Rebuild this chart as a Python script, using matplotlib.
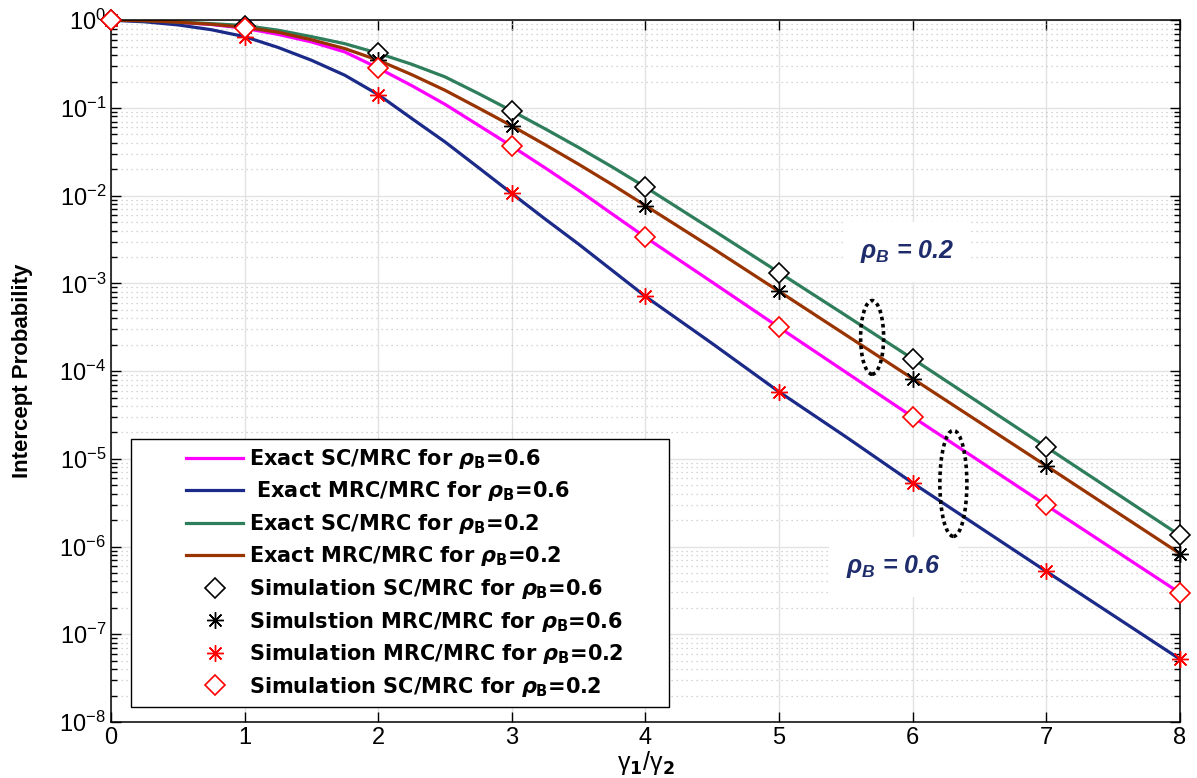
import matplotlib.pyplot as plt
from matplotlib.patches import Ellipse
from matplotlib.lines import Line2D
from matplotlib.legend_handler import HandlerLine2D
from matplotlib.ticker import LogLocator, NullFormatter

plt.rcParams['font.family'] = ['Liberation Sans', 'DejaVu Sans']
plt.rcParams['mathtext.fontset'] = 'custom'
plt.rcParams['mathtext.rm'] = 'DejaVu Sans:bold'
plt.rcParams['mathtext.it'] = 'DejaVu Sans:italic:bold'
plt.rcParams['mathtext.bf'] = 'DejaVu Sans:bold'
plt.rcParams['mathtext.bfit'] = 'Liberation Sans:italic:bold'

# analytical curves
x_curve = [0, 0.25, 0.5, 0.75, 1, 1.25, 1.5, 1.75, 2, 2.25, 2.5, 2.75, 3,
           3.25, 3.5, 3.75, 4, 4.5, 5, 5.5, 6, 7, 8]
sc_06 = [1.0, 0.985, 0.945, 0.895, 0.81, 0.69, 0.566, 0.435, 0.285, 0.18, 0.110, 0.0635, 0.0366,
         0.0207, 0.0115, 6.2e-3, 3.35e-3, 1.03e-3, 3.15e-4, 9.7e-5, 3.0e-5, 2.95e-6, 2.95e-7]
mrc_06 = [1.0, 0.96, 0.885, 0.78, 0.65, 0.49, 0.35, 0.236, 0.142, 0.076, 0.041, 0.0209, 0.0106,
          5.4e-3, 2.8e-3, 1.41e-3, 7.1e-4, 2.06e-4, 5.8e-5, 1.78e-5, 5.3e-6, 5.2e-7, 5.2e-8]
sc_02 = [1.0, 0.99, 0.955, 0.915, 0.87, 0.77, 0.65, 0.54, 0.42, 0.315, 0.226, 0.146, 0.0925,
         0.0577, 0.0354, 0.0213, 0.0125, 4.1e-3, 1.33e-3, 4.3e-4, 1.38e-4, 1.36e-5, 1.34e-6]
mrc_02 = [1.0, 0.99, 0.95, 0.90, 0.83, 0.73, 0.60, 0.475, 0.35, 0.24, 0.159, 0.10, 0.0624,
          0.038, 0.0228, 0.0134, 7.7e-3, 2.53e-3, 8.1e-4, 2.58e-4, 8.2e-5, 8.3e-6, 8.3e-7]

# simulation points
x_sim = [0, 1, 2, 3, 4, 5, 6, 7, 8]
sim_sc_02 = [1.0, 0.87, 0.42, 0.0925, 0.0125, 1.33e-3, 1.38e-4, 1.36e-5, 1.34e-6]
sim_mrc_02 = [1.0, 0.83, 0.35, 0.0624, 7.7e-3, 8.1e-4, 8.2e-5, 8.3e-6, 8.3e-7]
sim_mrc_06 = [1.0, 0.65, 0.142, 0.0106, 7.1e-4, 5.8e-5, 5.3e-6, 5.2e-7, 5.2e-8]
sim_sc_06 = [1.0, 0.81, 0.285, 0.0366, 3.35e-3, 3.15e-4, 3.0e-5, 2.95e-6, 2.95e-7]

labels = [r'Exact SC/MRC for $\rho_{\mathbf{B}}$=0.6',
          r' Exact MRC/MRC for $\rho_{\mathbf{B}}$=0.6',
          r'Exact SC/MRC for $\rho_{\mathbf{B}}$=0.2',
          r'Exact MRC/MRC for $\rho_{\mathbf{B}}$=0.2',
          r'Simulation SC/MRC for $\rho_{\mathbf{B}}$=0.6',
          r'Simulstion MRC/MRC for $\rho_{\mathbf{B}}$=0.6',
          r'Simulation MRC/MRC for $\rho_{\mathbf{B}}$=0.2',
          r'Simulation SC/MRC for $\rho_{\mathbf{B}}$=0.2']

fig = plt.figure(figsize=(11.97, 7.78), dpi=100)
ax = fig.add_axes([0.0927, 0.072, 0.8931, 0.902])

lw = 2.3
ax.semilogy(x_curve, sc_06, color='#FF00FF', lw=lw, label=labels[0])
ax.semilogy(x_curve, mrc_06, color='#1B2A88', lw=lw, label=labels[1])
ax.semilogy(x_curve, sc_02, color='#2E7D5B', lw=lw, label=labels[2])
ax.semilogy(x_curve, mrc_02, color='#993300', lw=lw, label=labels[3])

star = (8, 2, 0)
ax.semilogy(x_sim, sim_sc_02, ls='none', marker='D', ms=10, mfc='white', mec='black', mew=1.2,
            label=labels[4], clip_on=False, zorder=4)
ax.semilogy(x_sim, sim_mrc_02, ls='none', marker=star, ms=12, mec='black', mew=1.0,
            label=labels[5], clip_on=False, zorder=4)
ax.semilogy(x_sim, sim_mrc_06, ls='none', marker=star, ms=12, mec='red', color='red', mew=1.0,
            label=labels[6], clip_on=False, zorder=4)
ax.semilogy(x_sim, sim_sc_06, ls='none', marker='D', ms=10, mfc='white', mec='red', mew=1.2,
            label=labels[7], clip_on=False, zorder=4)

ax.set_xlim(0, 8)
ax.set_ylim(1e-8, 1)
ax.set_xticks(range(0, 9))
ax.yaxis.set_major_locator(LogLocator(base=10, numticks=20))
ax.yaxis.set_minor_locator(LogLocator(base=10, subs=range(2, 10), numticks=100))
ax.yaxis.set_minor_formatter(NullFormatter())

ax.grid(True, which='major', color='#E2E2E2', lw=1.0, ls='-')
ax.grid(True, which='minor', axis='y', color='#C8C8C8', lw=0.9, ls=(0, (1, 3)))
ax.set_axisbelow(True)

ax.tick_params(which='both', direction='in', top=True, right=True, labelsize=17, width=1)
ax.tick_params(which='major', length=7)
ax.tick_params(which='minor', length=4)
for s in ax.spines.values():
    s.set_linewidth(1.1)

ax.set_xlabel('γ$_1$/γ$_2$', fontsize=18, labelpad=0)
ax.set_ylabel('Intercept Probability', fontsize=16, fontweight='bold', labelpad=19)

# annotation boxes
for tx, ty, lab in [(0.745, 0.670, 'ρ$_{\\mathbfit{B}}$ = 0.2'), (0.732, 0.221, 'ρ$_{\\mathbfit{B}}$ = 0.6')]:
    ax.text(tx, ty, lab, transform=ax.transAxes, ha='center', va='center',
            fontsize=18, fontweight='bold', style='italic', color='#1F2C6B',
            bbox=dict(facecolor='white', edgecolor='none', pad=12), zorder=5)

ax.add_patch(Ellipse((0.712, 0.548), 0.0215, 0.105, transform=ax.transAxes, fill=False,
                     edgecolor='black', lw=2.6, ls=(0, (1, 1)), zorder=6))
ax.add_patch(Ellipse((0.788, 0.340), 0.0253, 0.151, transform=ax.transAxes, fill=False,
                     edgecolor='black', lw=2.6, ls=(0, (1, 1)), zorder=6))

leg = ax.legend(loc='lower left', bbox_to_anchor=(0.0187, 0.0214, 0.503, 0.38), mode='expand',
                borderaxespad=0, fancybox=False, framealpha=1, edgecolor='black',
                handlelength=5.0, handletextpad=0.25, labelspacing=0.41, borderpad=0.4,
                prop={'family': 'DejaVu Sans', 'weight': 'bold', 'size': 15}, numpoints=1,
                handler_map={Line2D: HandlerLine2D(xpad=2.25)})
leg.get_frame().set_linewidth(1.0)
leg.set_zorder(10)

fig.savefig('out.png', dpi=100)
